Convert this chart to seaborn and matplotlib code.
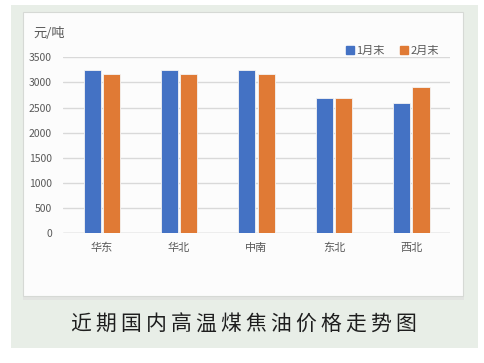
import pandas as pd
import numpy as np
import matplotlib.pyplot as plt
import seaborn as sns
from matplotlib.patches import Rectangle
from matplotlib.lines import Line2D

# --- 数据 ---
regions = ['华东', '华北', '中南', '东北', '西北']
series_names = ['1月末', '2月末']
jan_values = [3250, 3250, 3250, 2700, 2600]
feb_values = [3160, 3170, 3170, 2700, 2900]
y_ticks = [0, 500, 1000, 1500, 2000, 2500, 3000, 3500]
colors = ['#4472C4', '#E07A35']
title = '近期国内高温煤焦油价格走势图'

df = pd.DataFrame({
    'region': regions * 2,
    'series': [series_names[0]] * len(regions) + [series_names[1]] * len(regions),
    'value': jan_values + feb_values,
})

# --- 绘图设置 ---
sns.set_theme(style="white")
plt.rcParams['font.family'] = ['Noto Sans CJK SC', 'DejaVu Sans']

fig = plt.figure(figsize=(4.85, 3.63), dpi=100)
fig.patch.set_facecolor('white')

# 背景面板
fig.patches.append(Rectangle((0.0227, 0.0413), 0.963, 0.945, transform=fig.transFigure,
                             facecolor='#E8EEE7', edgecolor='none', zorder=-3))
fig.patches.append(Rectangle((0.0474, 0.174), 0.909, 0.782, transform=fig.transFigure,
                             facecolor='#E2E4E1', edgecolor='none', zorder=-2))
fig.patches.append(Rectangle((0.0474, 0.1846), 0.907, 0.782, transform=fig.transFigure,
                             facecolor='#FCFCFC', edgecolor='#D6D9D5', linewidth=0.8, zorder=-1))

ax = fig.add_axes([0.1299, 0.3573, 0.798, 0.4849])
ax.set_facecolor('none')

sns.barplot(data=df, x='region', y='value', hue='series', order=regions,
            hue_order=series_names, palette=colors, saturation=1, width=0.5, gap=0.12,
            edgecolor='#F4F4F4', linewidth=0.6, ax=ax, legend=False, zorder=3)

ax.set_ylim(0, 3500)
ax.set_yticks(y_ticks)
ax.set_xlim(-0.5, len(regions) - 0.5)
ax.yaxis.grid(True, color='#D9D9D9', linewidth=1.0)
ax.set_axisbelow(True)
for s in ax.spines.values():
    s.set_visible(False)
ax.axhline(0, color='#D0D0D0', linewidth=1.0, zorder=2)
ax.tick_params(axis='y', labelsize=7.5, colors='#595959', length=0, pad=8)
ax.tick_params(axis='x', labelsize=8, colors='#595959', length=0, pad=7)
ax.set_xlabel('')
ax.set_ylabel('')

# 单位
fig.text(0.068, 0.909, '元/吨', fontsize=9.5, color='#595959', ha='left', va='center')

# 图例
handles = [Line2D([], [], marker='s', linestyle='none', markersize=5.5,
                  markerfacecolor=c, markeredgecolor=c) for c in colors]
ax.legend(handles, series_names, loc='center right', bbox_to_anchor=(0.985, 1.036),
          ncol=2, frameon=False, fontsize=8, handlelength=0.6, handletextpad=0.3,
          columnspacing=1.4, borderpad=0, labelcolor='#595959')

# 标题（字间距加宽）
fig.text(0.503, 0.105, '\u2009'.join(title), fontsize=15, color='#1E1E1E',
         ha='center', va='center')

plt.savefig('out.png', dpi=100)
